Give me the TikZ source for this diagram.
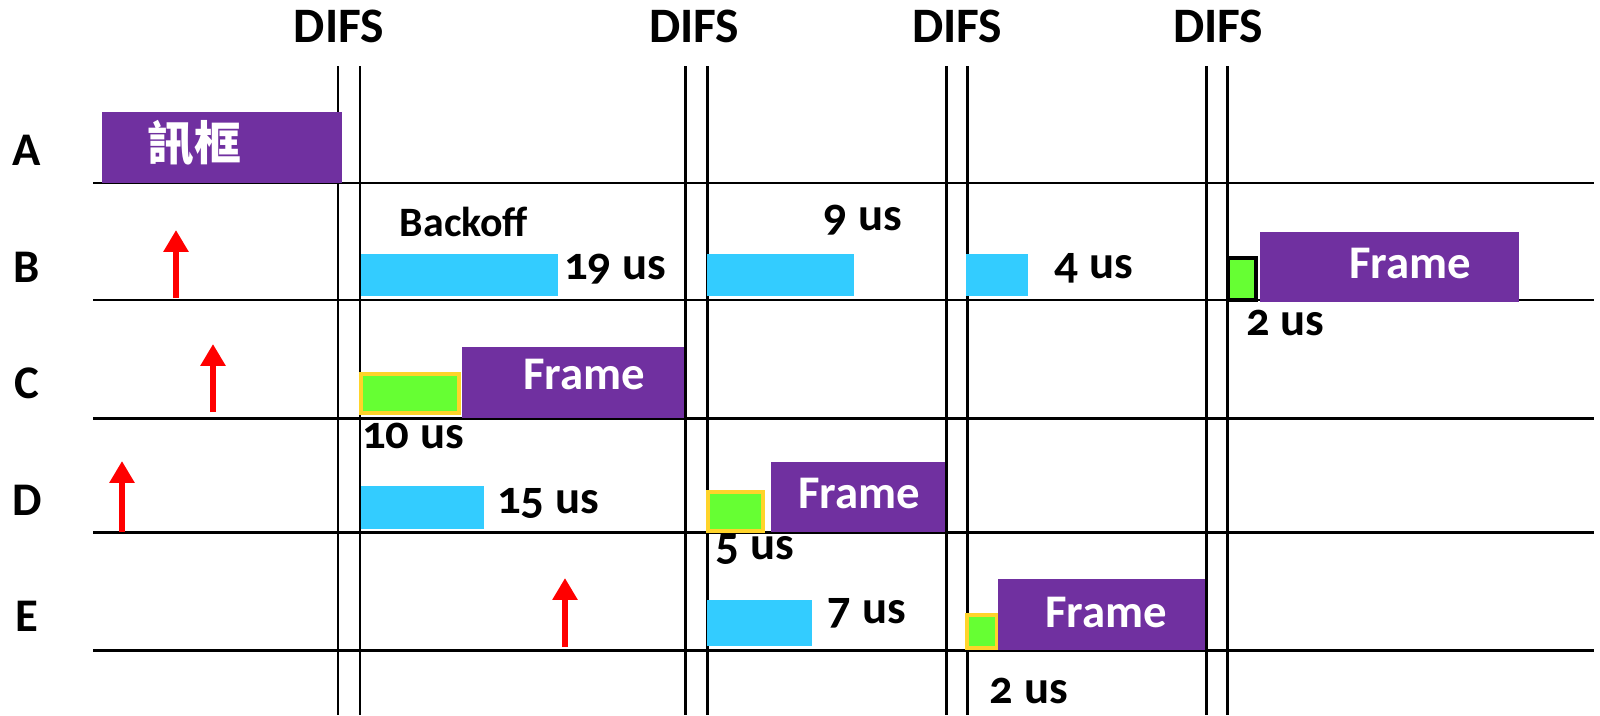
\documentclass[tikz,border=0pt]{standalone}
\usepackage{fontspec}
\setmainfont{Carlito}[Numbers=OldStyle]
\newfontfamily\cjk{Noto Sans CJK TC}
\usetikzlibrary{arrows.meta,positioning}
\definecolor{frmpurple}{HTML}{7030A0}
\definecolor{bkcyan}{HTML}{33CCFF}
\definecolor{ifsgreen}{HTML}{66FF33}
\definecolor{ifsyellow}{HTML}{FFD42A}
\tikzstyle{grid} = [draw, line width=0.85pt]
\tikzstyle{frm} = [fill=frmpurple]
\tikzstyle{bko} = [fill=bkcyan]
\tikzstyle{ifs} = [fill=ifsgreen, draw=ifsyellow, line width=1pt]
\tikzstyle{txt} = [font=\bfseries\fontsize{13.3}{15}\selectfont, inner sep=0pt, anchor=base]
\tikzstyle{wtxt} = [txt, text=white]
\tikzstyle{sig} = [draw=red, line width=1.7pt, -{Triangle[width=6.8pt,length=6.2pt]}]
\tikzset{>=latex}

\begin{document}
\begin{tikzpicture}[x=0.01cm,y=-0.01cm]
    \useasboundingbox (0,0) rectangle (1600,715);
    % station rows
    \foreach \r/\y in {A/165,B/282,C/398,D/515,E/631}
      \node [txt] (row\r) at (27,\y) {\r};
    % time lines
    \foreach \y in {183,300,418,532,650}
      \draw [grid] (93,\y) -- (1594,\y);
    % DIFS pairs
    \foreach \xa/\xb/\xl/\n in {338/360/339/1,685/707/694/2,946/967/957/3,1206/1227/1218/4} {
      \draw [grid] (\xa,66) -- (\xa,715);
      \draw [grid] (\xb,66) -- (\xb,715);
      \node [txt, font=\bfseries\fontsize{14.1}{16}\selectfont] (difs\n) at (\xl,42) {DIFS};
    }
    % A
    \fill [frm] (102,112) rectangle (342,183);
    \node [wtxt, anchor=center, font=\cjk\bfseries\fontsize{13.3}{15}\selectfont] (frmA) at (194,143) {訊框};
    % B
    \draw [sig] (176,298) coordinate (sB) -- (176,230) coordinate (tB);
    \node [txt, font=\bfseries\fontsize{11.9}{14}\selectfont] (bkoff) at (464,236) {Backoff};
    \fill [bko] (361,254) rectangle (558,296);
    \node [txt] (b19) at (615,279) {19 us};
    \fill [bko] (707,254) rectangle (854,296);
    \node [txt] (b9) at (863,230) {9 us};
    \fill [bko] (966,254) rectangle (1028,296);
    \node [txt] (b4) at (1094,278) {4 us};
    \filldraw [fill=ifsgreen, line width=1pt] (1228,258) rectangle (1256,300);
    \fill [frm] (1260,232) rectangle (1519,302);
    \node [wtxt] (frmB) at (1410,278) {Frame};
    \node [txt] (b2) at (1285,335) {2 us};
    % C
    \draw [sig] (213,412) coordinate (sC) -- (213,344) coordinate (tC);
    \draw [ifs] (361,374) rectangle (459,413);
    \fill [frm] (462,347) rectangle (684,418);
    \node [wtxt] (frmC) at (584,389) {Frame};
    \node [txt] (c10) at (413,448) {10 us};
    % D
    \draw [sig] (122,532) coordinate (sD) -- (122,461) coordinate (tD);
    \fill [bko] (361,486) rectangle (484,529);
    \node [txt] (d15) at (548,513) {15 us};
    \draw [ifs] (708,492) rectangle (763,531);
    \fill [frm] (771,462) rectangle (945,532);
    \node [wtxt] (frmD) at (859,508) {Frame};
    \node [txt] (d5) at (755,559) {5 us};
    % E
    \draw [sig] (565,647) coordinate (sE) -- (565,578) coordinate (tE);
    \fill [bko] (707,600) rectangle (812,646);
    \node [txt] (e7) at (867,623) {7 us};
    \draw [ifs] (967,615) rectangle (997,648);
    \fill [frm] (998,579) rectangle (1205,650);
    \node [wtxt] (frmE) at (1106,627) {Frame};
    \node [txt] (e2) at (1029,703) {2 us};
  \end{tikzpicture}
\end{document}
